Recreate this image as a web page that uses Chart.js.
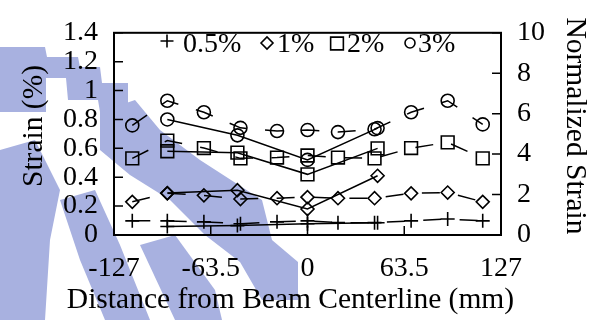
<!DOCTYPE html>
<html>
<head>
<meta charset="utf-8">
<script src="https://cdn.jsdelivr.net/npm/chart.js@4.4.1/dist/chart.umd.min.js"></script>
<style>
  html, body { margin: 0; padding: 0; background: #fff; }
  #wrap { width: 601px; height: 320px; }
</style>
</head>
<body>
<div id="wrap"><canvas id="c" width="601" height="320"></canvas></div>
<script>
// Drift levels and their marker shapes
const driftLabels = ['0.5%', '1%', '2%', '3%'];
const markerStyles = ['cross', 'rectRot', 'rect', 'circle'];

// Strain gauges (left axis, solid lines): position from beam centerline, mm
const gaugeX = [-92, -46, 0, 46];
const strain05 = [0.059, 0.065, 0.078, 0.085];
const strain1  = [0.29, 0.31, 0.18, 0.41];
const strain2  = [0.58, 0.57, 0.42, 0.60];
const strain3  = [0.80, 0.69, 0.52, 0.74];

// Normalized strain profile (right axis, dashed lines)
const profileX = [-115, -92, -68, -44, -20, 0, 20, 44, 68, 92, 115];
const norm05 = [0.70, 0.70, 0.65, 0.56, 0.65, 0.70, 0.61, 0.61, 0.70, 0.79, 0.70];
const norm1  = [1.64, 2.06, 1.96, 1.78, 1.82, 1.87, 1.82, 1.82, 2.06, 2.10, 1.64];
const norm2  = [3.79, 4.67, 4.30, 3.79, 3.83, 3.93, 3.83, 3.79, 4.30, 4.58, 3.79];
const norm3  = [5.42, 6.64, 6.07, 5.30, 5.14, 5.19, 5.09, 5.23, 6.07, 6.64, 5.47];

// Axis ticks
const xTicks = [-127, -63.5, 0, 63.5, 127];
const strainTicks = [0, 0.2, 0.4, 0.6, 0.8, 1, 1.2, 1.4];
const normTicks = [0, 2, 4, 6, 8, 10];

const SERIF = "'Liberation Serif', 'Times New Roman', serif";
const pointRadius = { cross: 7, rectRot: 6.5, rect: 9, circle: 6.5 };

function pairs(xs, ys) { return xs.map((x, i) => ({ x: x, y: ys[i] })); }

const strainSets = [strain05, strain1, strain2, strain3];
const normSets = [norm05, norm1, norm2, norm3];
const datasets = [];
strainSets.forEach((vals, i) => {
  datasets.push({
    label: driftLabels[i],
    data: pairs(gaugeX, vals),
    yAxisID: 'y',
    borderColor: '#000', borderWidth: 1.5,
    pointStyle: markerStyles[i], pointRadius: pointRadius[markerStyles[i]],
    pointBorderColor: '#000', pointBackgroundColor: 'rgba(0,0,0,0)', pointBorderWidth: 1.6,
    fill: false, tension: 0
  });
});
normSets.forEach((vals, i) => {
  datasets.push({
    label: driftLabels[i] + ' normalized',
    data: pairs(profileX, vals),
    yAxisID: 'y2',
    borderColor: '#000', borderWidth: 1.5, borderDash: [18, 18.4],
    pointStyle: markerStyles[i], pointRadius: pointRadius[markerStyles[i]],
    pointBorderColor: '#000', pointBackgroundColor: 'rgba(0,0,0,0)', pointBorderWidth: 1.6,
    fill: false, tension: 0
  });
});

// Light blue emblem behind the plot
const emblem = {
  id: 'emblem',
  beforeDraw(chart) {
    const ctx = chart.ctx;
    ctx.save();
    ctx.fillStyle = '#fff';
    ctx.fillRect(0, 0, chart.width, chart.height);
    ctx.fillStyle = 'rgb(168,177,224)';
    const shapes = [
      [[0,47],[45,47],[47,57],[78,57],[80,67],[100,67],[102,83],[128,83],[128,112],[100,112],[98,100],[68,100],[66,78],[46,78],[46,112],[0,112]],
      [[100,112],[135,100],[160,130],[200,160],[262,200],[272,240],[298,262],[298,300],[262,300],[240,262],[205,235],[170,200],[130,175],[100,150]],
      [[0,150],[35,140],[60,190],[50,240],[45,320],[0,320]],
      [[60,200],[95,190],[120,245],[150,320],[105,320],[80,260]],
      [[140,245],[175,235],[215,290],[222,320],[175,320]]
    ];
    shapes.forEach(s => {
      ctx.beginPath();
      s.forEach((p, i) => i ? ctx.lineTo(p[0], p[1]) : ctx.moveTo(p[0], p[1]));
      ctx.closePath();
      ctx.fill();
    });
    ctx.restore();
  }
};

// Frame, inward tick marks, axis titles and legend
const decor = {
  id: 'decor',
  afterDraw(chart) {
    const ctx = chart.ctx;
    const a = chart.chartArea;
    const sx = chart.scales.x, sy = chart.scales.y, sy2 = chart.scales.y2;
    ctx.save();
    ctx.strokeStyle = '#000';
    ctx.lineWidth = 1.5;
    ctx.beginPath();
    xTicks.forEach(v => { const p = sx.getPixelForValue(v); ctx.moveTo(p, a.bottom); ctx.lineTo(p, a.bottom - 9); });
    strainTicks.forEach(v => { const p = sy.getPixelForValue(v); ctx.moveTo(a.left, p); ctx.lineTo(a.left + 9, p); });
    normTicks.forEach(v => { const p = sy2.getPixelForValue(v); ctx.moveTo(a.right, p); ctx.lineTo(a.right - 9, p); });
    ctx.stroke();
    ctx.lineWidth = 2;
    ctx.strokeRect(a.left, a.top, a.right - a.left, a.bottom - a.top);

    ctx.fillStyle = '#000';
    ctx.font = '29.5px ' + SERIF;
    ctx.textAlign = 'center';
    ctx.textBaseline = 'alphabetic';
    ctx.fillText('Distance from Beam Centerline (mm)', 290.5, 308);
    ctx.save();
    ctx.translate(42, 126); ctx.rotate(-Math.PI / 2);
    ctx.fillText('Strain (%)', 0, 0);
    ctx.restore();
    ctx.save();
    ctx.translate(567, 126); ctx.rotate(Math.PI / 2);
    ctx.fillText('Normalized Strain', 0, 0);
    ctx.restore();

    // legend: hollow markers followed by the drift label
    const items = [
      { mx: 167, my: 41, r: 6.5, tx: 183 },
      { mx: 267, my: 43, r: 6, tx: 277 },
      { mx: 337, my: 43.5, r: 9, tx: 347 },
      { mx: 410, my: 43, r: 5, tx: 418 }
    ];
    ctx.font = '28px ' + SERIF;
    ctx.textAlign = 'left';
    items.forEach((it, i) => {
      ctx.save();
      ctx.fillStyle = 'rgba(0,0,0,0)';
      ctx.strokeStyle = '#000';
      ctx.lineWidth = 1.6;
      Chart.helpers.drawPoint(ctx, {
        pointStyle: markerStyles[i], radius: it.r, borderWidth: 1.6, rotation: 0
      }, it.mx, it.my);
      ctx.restore();
      ctx.fillText(driftLabels[i], it.tx, 52);
    });
    ctx.restore();
  }
};

const tickFont = { family: SERIF, size: 28 };

new Chart(document.getElementById('c'), {
  type: 'line',
  data: { datasets: datasets },
  plugins: [emblem, decor],
  options: {
    responsive: false,
    animation: false,
    devicePixelRatio: 1,
    layout: { padding: { top: 21, left: 0, right: 0, bottom: 0 } },
    plugins: { legend: { display: false }, tooltip: { enabled: false } },
    scales: {
      x: {
        type: 'linear', min: -127, max: 127,
        grid: { display: false, drawTicks: false }, border: { display: false },
        afterBuildTicks: s => { s.ticks = xTicks.map(v => ({ value: v })); },
        afterFit: s => { s.height = 85; },
        ticks: { font: tickFont, color: '#000', padding: 17, maxRotation: 0, autoSkip: false,
                 callback: v => String(v) }
      },
      y: {
        position: 'left', min: 0, max: 1.4,
        grid: { display: false, drawTicks: false }, border: { display: false },
        afterBuildTicks: s => { s.ticks = strainTicks.map(v => ({ value: v })); },
        afterFit: s => { s.width = 114; },
        ticks: { font: tickFont, color: '#000', padding: 16, autoSkip: false, callback: v => String(v) }
      },
      y2: {
        position: 'right', min: 0, max: 10,
        grid: { display: false, drawTicks: false }, border: { display: false },
        afterBuildTicks: s => { s.ticks = normTicks.map(v => ({ value: v })); },
        afterFit: s => { s.width = 100; },
        ticks: { font: tickFont, color: '#000', padding: 16, autoSkip: false, callback: v => String(v) }
      }
    }
  }
});
</script>
</body>
</html>
